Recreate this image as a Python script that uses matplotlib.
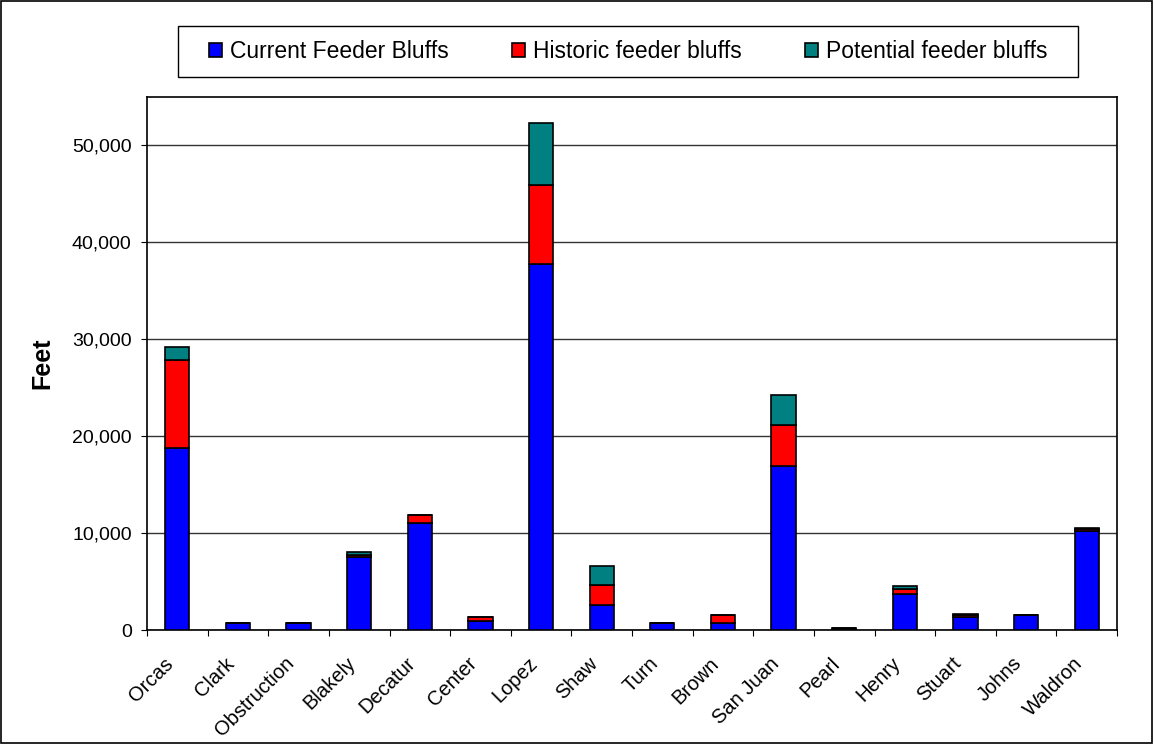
import numpy as np
import matplotlib
matplotlib.use("Agg")
import matplotlib.pyplot as plt
from matplotlib.patches import Rectangle
from matplotlib.ticker import FuncFormatter
from matplotlib.transforms import ScaledTranslation

plt.rcParams['font.family'] = ['Liberation Sans', 'DejaVu Sans']

islands = ["Orcas", "Clark", "Obstruction", "Blakely", "Decatur", "Center", "Lopez", "Shaw",
           "Turn", "Brown", "San Juan", "Pearl", "Henry", "Stuart", "Johns", "Waldron"]
current = [18800, 750, 750, 7500, 11050, 920, 37770, 2600, 750, 720, 16900, 120, 3700, 1370, 1500, 10200]
historic = [9030, 0, 0, 250, 820, 400, 8110, 2050, 0, 780, 4300, 60, 550, 200, 0, 200]
potential = [1330, 0, 0, 350, 0, 0, 6420, 1950, 0, 0, 3080, 60, 250, 120, 0, 150]

fig = plt.figure(figsize=(11.54, 7.44), dpi=100)
ax = fig.add_axes([0.1274, 0.1532, 0.8406, 0.7164])

x = np.arange(len(islands)) + 0.5
cur = np.array(current)
his = np.array(historic)
pot = np.array(potential)
kw = dict(width=0.4, edgecolor='black', linewidth=1.2, zorder=3)
ax.bar(x, cur, color='#0000FF', label='Current Feeder Bluffs', **kw)
ax.bar(x, his, bottom=cur, color='#FF0000', label='Historic feeder bluffs', **kw)
ax.bar(x, pot, bottom=cur + his, color='#008080', label='Potential feeder bluffs', **kw)

ax.set_xlim(0, len(islands))
ax.set_ylim(0, 55000)
ax.set_yticks(np.arange(0, 55000, 10000))
ax.yaxis.set_major_formatter(FuncFormatter(lambda v, p: f"{int(v):,}"))
ax.yaxis.grid(True, color='#333333', linewidth=1, zorder=0)
ax.set_xticks(np.arange(len(islands) + 1))
ax.set_xticklabels([])
ax.set_xticks(x, minor=True)
ax.set_xticklabels(islands, minor=True, rotation=45, ha='right', va='center',
                   rotation_mode='anchor', fontsize=14.5)
ax.tick_params(axis='x', which='minor', length=0, pad=22)
ax.tick_params(axis='x', which='major', direction='out', length=4)
ax.tick_params(axis='y', direction='out', length=4, pad=7, labelsize=14)
shift = ScaledTranslation(-0.07, 0, fig.dpi_scale_trans)
for lbl in ax.get_xticklabels(minor=True):
    lbl.set_transform(lbl.get_transform() + shift)
for s in ax.spines.values():
    s.set_linewidth(1.2)
ax.set_ylabel('Feet', fontsize=18, fontweight='bold', labelpad=13)

# legend box drawn separately so its size matches the original
fig.patches.append(Rectangle((178 / 1154, 1 - 77 / 744), 900 / 1154, 51 / 744, transform=fig.transFigure,
                             fill=True, facecolor='white', edgecolor='black', linewidth=1))
fig.legend(loc='center', bbox_to_anchor=(628 / 1154, 1 - 51.5 / 744), ncol=3, fontsize=16.5,
           frameon=False, handlelength=0.57, handleheight=0.57, handletextpad=0.35,
           columnspacing=2.75, borderpad=0, borderaxespad=0)

fig.patches.append(Rectangle((0.001, 0.001), 0.997, 0.997, transform=fig.transFigure,
                             fill=False, edgecolor='black', linewidth=1.2))

fig.savefig('out.png', dpi=100)
